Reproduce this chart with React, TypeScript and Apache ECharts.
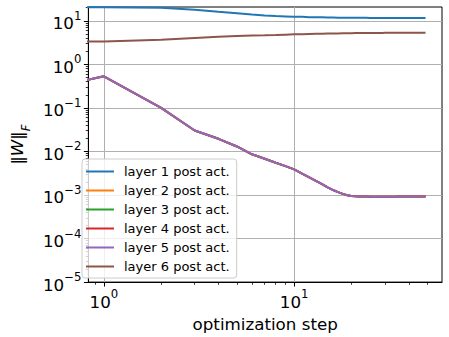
import React, { useEffect, useRef } from "react";
import * as echarts from "echarts";

const steps = [0.5, 1, 2, 3, 4, 5, 6, 7, 8, 9, 10, 11, 12, 13, 14, 15, 16, 17, 18, 19, 20,
  21, 22, 23, 24, 25, 26, 27, 28, 29, 30, 31, 32, 33, 34, 35, 36, 37, 38, 39, 40,
  41, 42, 43, 44, 45, 46, 47, 48, 49];

const layer1 = [20.4, 20.4, 19.9, 18.0, 16.1, 14.9, 13.9, 13.2, 12.8, 12.6, 12.4,
  12.3, 12.1, 12.0, 12.0, 11.9, 11.9, 11.8, 11.8, 11.7, 11.7,
  11.7, 11.7, 11.7, 11.7, 11.6, 11.6, 11.6, 11.6, 11.6, 11.6,
  11.6, 11.6, 11.6, 11.6, 11.6, 11.6, 11.6, 11.6, 11.6, 11.6,
  11.6, 11.6, 11.6, 11.6, 11.6, 11.6, 11.6, 11.6, 11.6];

const layer5 = [0.275, 0.531, 0.100, 0.0302, 0.0195, 0.0130, 0.0086, 0.0068, 0.0055, 0.0046, 0.00388,
  0.0031, 0.00253, 0.00212, 0.00177, 0.00150, 0.00130, 0.00116, 0.00106, 0.00099, 0.00095,
  0.00093, 0.00092, 0.00092, 0.00092, 0.00091, 0.00091, 0.00091, 0.00091, 0.00091, 0.00091,
  0.00091, 0.00091, 0.00091, 0.00091, 0.00092, 0.00092, 0.00092, 0.00092, 0.00092, 0.00092,
  0.00092, 0.00092, 0.00092, 0.00092, 0.00092, 0.00092, 0.00092, 0.00092, 0.00092];

const layer2 = layer5;
const layer3 = layer5;
const layer4 = layer5;

const layer6 = [3.35, 3.35, 3.65, 4.0, 4.28, 4.45, 4.56, 4.64, 4.72, 4.80, 4.87,
  4.92, 4.97, 5.01, 5.04, 5.07, 5.10, 5.12, 5.15, 5.17, 5.19,
  5.21, 5.22, 5.23, 5.24, 5.25, 5.26, 5.26, 5.27, 5.27, 5.28,
  5.28, 5.28, 5.29, 5.29, 5.29, 5.29, 5.30, 5.30, 5.30, 5.30,
  5.30, 5.31, 5.31, 5.31, 5.31, 5.31, 5.32, 5.32, 5.32];

const seriesNames = ["layer 1 post act.", "layer 2 post act.", "layer 3 post act.",
  "layer 4 post act.", "layer 5 post act.", "layer 6 post act."];
const seriesValues = [layer1, layer2, layer3, layer4, layer5, layer6];
const colors = ["#1f77b4", "#ff7f0e", "#2ca02c", "#d62728", "#9467bd", "#8c564b"];

const xMajorTicks = [1, 10];
const xMinorTicks = [0.9, 2, 3, 4, 5, 6, 7, 8, 9, 20, 30, 40, 50];
const yMajorTicks = [1e-5, 1e-4, 1e-3, 1e-2, 1e-1, 1, 10];
const yMinorMantissas = [2, 3, 4, 5, 6, 7, 8, 9];

const X_MIN = 0.829;
const X_MAX = 59.8;
const Y_MIN = 1e-5;
const Y_MAX = 20.7;

const FONT = "DejaVu Sans";

const yMinorTicks: number[] = [];
yMajorTicks.forEach((d) => yMinorMantissas.forEach((m) => {
  const v = m * d;
  if (v < Y_MAX) yMinorTicks.push(v);
}));

const powLabel = (v: number) => {
  const e = Math.round(Math.log10(v));
  const s = e < 0 ? "\u2212" + String(-e) : String(e);
  return `{b|10}{e|${s}}`;
};

const labelRich = {
  b: { fontSize: 16.7, fontFamily: FONT, color: "#000", lineHeight: 22, verticalAlign: "bottom" },
  e: { fontSize: 11.7, fontFamily: FONT, color: "#000", lineHeight: 14, verticalAlign: "top" },
};

export default function App() {
  const ref = useRef<HTMLDivElement>(null);
  useEffect(() => {
    if (!ref.current) return;
    const chart = echarts.init(ref.current, undefined, { renderer: "svg" });
    const gridLine = { show: true, lineStyle: { color: "#b0b0b0", width: 1 } };
    chart.setOption({
      animation: false,
      backgroundColor: "#fff",
      grid: { left: 76, right: 7, top: 7, bottom: 51, show: true, borderColor: "#000", borderWidth: 1, backgroundColor: "transparent" },
      legend: {
        data: seriesNames,
        orient: "vertical",
        left: 82,
        top: 159,
        icon: "rect",
        itemWidth: 28,
        itemHeight: 2,
        itemGap: 6,
        padding: [6, 7, 5, 4],
        backgroundColor: "rgba(255,255,255,0.8)",
        borderColor: "#cccccc",
        borderWidth: 1,
        borderRadius: 3,
        textStyle: { fontSize: 13, fontFamily: FONT, color: "#000", lineHeight: 13, padding: [0, 0, 0, 5] },
      },
      xAxis: [
        {
          type: "log", logBase: 10, min: X_MIN, max: X_MAX, position: "bottom",
          name: "optimization step", nameLocation: "middle", nameGap: 22,
          nameTextStyle: { fontSize: 16.7, fontFamily: FONT, color: "#000" },
          axisLine: { show: true, lineStyle: { color: "#000", width: 1 } },
          axisTick: { show: true, length: 4.5, customValues: xMajorTicks, lineStyle: { color: "#000", width: 1 } },
          axisLabel: { show: true, customValues: xMajorTicks, margin: 6, formatter: powLabel, rich: labelRich },
          splitLine: gridLine,
          minorTick: { show: false },
        },
        {
          type: "log", logBase: 10, min: X_MIN, max: X_MAX, position: "bottom",
          axisLine: { show: false },
          axisTick: { show: true, length: 2.6, customValues: xMinorTicks, lineStyle: { color: "#000", width: 0.8 } },
          axisLabel: { show: false },
          splitLine: { show: false },
        },
      ],
      yAxis: [
        {
          type: "log", logBase: 10, min: Y_MIN, max: Y_MAX, position: "left",
          name: "{n|\u2016}{w|W}{n|\u2016}{f|F}", nameLocation: "middle", nameGap: 50, nameRotate: 90,
          nameTextStyle: {
            rich: {
              n: { fontSize: 16.7, fontFamily: FONT, color: "#000", lineHeight: 24, verticalAlign: "top" },
              w: { fontSize: 16.7, fontFamily: FONT, fontStyle: "italic", color: "#000", lineHeight: 24, verticalAlign: "top" },
              f: { fontSize: 11.7, fontFamily: FONT, fontStyle: "italic", color: "#000", lineHeight: 12, verticalAlign: "bottom" },
            },
          },
          axisLine: { show: true, lineStyle: { color: "#000", width: 1 } },
          axisTick: { show: true, length: 4.5, customValues: yMajorTicks, lineStyle: { color: "#000", width: 1 } },
          axisLabel: { show: true, customValues: yMajorTicks, margin: 7, formatter: powLabel, rich: labelRich },
          splitLine: gridLine,
        },
        {
          type: "log", logBase: 10, min: Y_MIN, max: Y_MAX, position: "left",
          axisLine: { show: false },
          axisTick: { show: true, length: 2.6, customValues: yMinorTicks, lineStyle: { color: "#000", width: 0.8 } },
          axisLabel: { show: false },
          splitLine: { show: false },
        },
      ],
      series: seriesNames.map((name, k) => ({
        name,
        type: "line",
        xAxisIndex: 0,
        yAxisIndex: 0,
        data: steps.map((s, i) => [s, seriesValues[k][i]]),
        showSymbol: false,
        symbol: "none",
        clip: true,
        color: colors[k],
        lineStyle: { color: colors[k], width: 2 },
      })),
    });
    return () => chart.dispose();
  }, []);
  return <div ref={ref} style={{ position: "fixed", left: 0, top: 0, width: 449, height: 337, background: "#fff" }} />;
}
